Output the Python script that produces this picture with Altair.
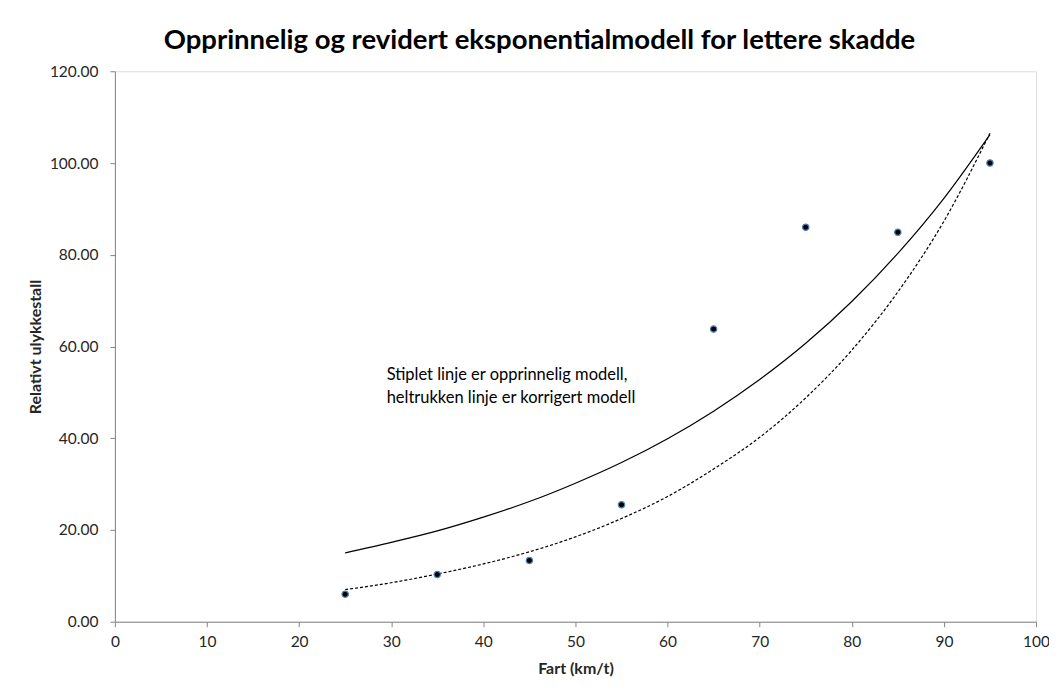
import altair as alt
import pandas as pd

# Observed points
speed = [25, 35, 45, 55, 65, 75, 85, 95]
relative = [6.0, 10.3, 13.35, 25.5, 63.8, 86.0, 84.9, 100.0]

# Curves
curve_x = [25, 30, 35, 40, 45, 50, 55, 60, 65, 70, 75, 80, 85, 90, 95]
corrected = [15.0, 17.3, 19.8, 22.8, 26.2, 30.2, 34.7, 39.9, 45.9, 52.8, 60.7, 69.8, 80.3, 92.3, 106.2]
original = [7.0, 8.5, 10.4, 12.6, 15.25, 18.5, 22.5, 27.3, 33.3, 40.2, 48.8, 59.2, 71.9, 87.3, 106.5]

note_lines = ["Stiplet linje er opprinnelig modell,", "heltrukken linje er korrigert modell"]

FONT = "Lato"

pts = pd.DataFrame({"x": speed, "y": relative})
cur = pd.DataFrame({"x": curve_x + curve_x,
                    "y": corrected + original,
                    "model": ["korrigert"] * len(curve_x) + ["opprinnelig"] * len(curve_x)})
note = pd.DataFrame({"x": [29.5], "y": [53.8], "text": [note_lines]})

xs = alt.Scale(domain=[0, 100], nice=False)
ys = alt.Scale(domain=[0, 120], nice=False)

xaxis = alt.Axis(title="Fart (km/t)", values=list(range(0, 101, 10)), grid=False, labelFlush=False,
                 labelFontSize=15.5, titleFontSize=16, labelColor="#262626", titleColor="#262626",
                 domainColor="#868686", tickColor="#868686", tickSize=5, labelPadding=8,
                 titlePadding=10, labelFont=FONT, titleFont=FONT, titleFontWeight="bold")
yaxis = alt.Axis(title="Relativt ulykkestall", values=list(range(0, 121, 20)), format=".2f", grid=False,
                 labelFlush=False,
                 labelFontSize=15.5, titleFontSize=16, labelColor="#262626", titleColor="#262626",
                 domainColor="#868686", tickColor="#868686", tickSize=5, labelPadding=12,
                 titlePadding=6, labelFont=FONT, titleFont=FONT, titleFontWeight="bold")

solid = alt.Chart(cur).transform_filter(alt.datum.model == "korrigert").mark_line(
    color="#000000", strokeWidth=1.2, interpolate="monotone").encode(
    x=alt.X("x:Q", scale=xs, axis=xaxis), y=alt.Y("y:Q", scale=ys, axis=yaxis))

dashed = alt.Chart(cur).transform_filter(alt.datum.model == "opprinnelig").mark_line(
    color="#000000", strokeWidth=1.2, strokeDash=[3, 2], interpolate="monotone").encode(
    x=alt.X("x:Q", scale=xs), y=alt.Y("y:Q", scale=ys))

points = alt.Chart(pts).mark_point(filled=True, size=40, color="#000000", stroke="#4F81BD",
                                   strokeWidth=1.2, opacity=1).encode(
    x=alt.X("x:Q", scale=xs), y=alt.Y("y:Q", scale=ys))

text = alt.Chart(note).mark_text(align="left", baseline="middle", fontSize=16.5, font=FONT,
                                 color="#000000", lineHeight=23).encode(
    x=alt.X("x:Q", scale=xs), y=alt.Y("y:Q", scale=ys), text="text")

chart = alt.layer(solid, dashed, points, text).properties(
    width=922, height=551,
    title=alt.TitleParams("Opprinnelig og revidert eksponentialmodell for lettere skadde",
                          fontSize=27.5, font=FONT, fontWeight="bold", color="#000000",
                          anchor="middle", dx=-36, offset=10),
    autosize=alt.AutoSizeParams(type="none"),
    padding={"left": 107, "top": 63, "right": 13, "bottom": 56},
).configure_view(stroke=None).configure(background="white")

chart.save("out.html", embed_options={"renderer": "svg", "actions": False})
